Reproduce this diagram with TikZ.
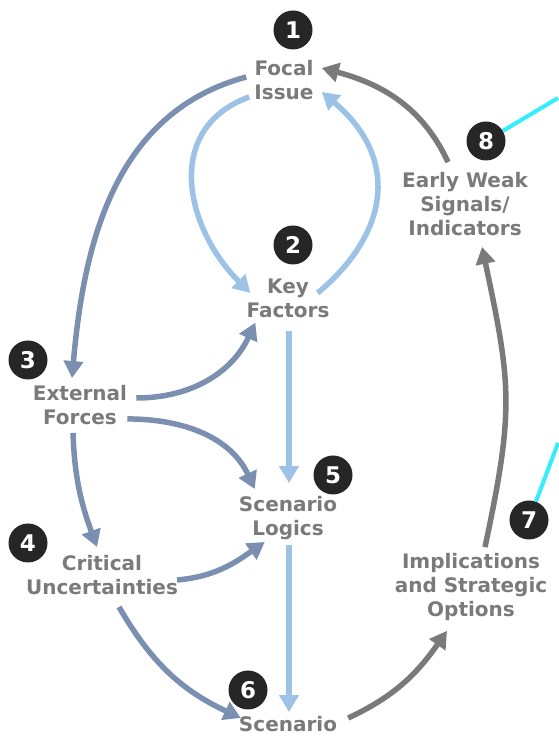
\documentclass[tikz,border=0pt]{standalone}
\usepackage{fontspec}
\setmainfont{DejaVu Sans}
\usetikzlibrary{arrows.meta, positioning}

\definecolor{labelgray}{HTML}{7A7A7A}
\definecolor{steelline}{HTML}{7B8FB0}
\definecolor{skyline}{HTML}{9CC2E5}
\definecolor{greyline}{HTML}{7A7A7A}
\definecolor{dotblack}{HTML}{262626}
\definecolor{leadcyan}{HTML}{33EEFF}

\begin{document}
\begin{tikzpicture}[
    x=1pt, y=1pt,
    itemtext/.style={font=\bfseries\fontsize{20}{24}\selectfont, text=labelgray, align=center, inner sep=0pt},
    numdot/.style={circle, fill=dotblack, minimum size=39pt, inner sep=0pt, text=white, font=\bfseries\fontsize{23}{23}\selectfont},
    flowarrow/.style={-{Triangle[length=17pt,width=19pt]}, line width=5.5pt},
    steelflow/.style={flowarrow, draw=steelline},
    skyflow/.style={flowarrow, draw=skyline},
    greyflow/.style={flowarrow, draw=greyline},
    leadline/.style={draw=leadcyan, line width=4pt}
]
\useasboundingbox (0,0) rectangle (558,744);

% Stufen mit Nummern
\node[numdot] (n1) at (293,714) {1};
\node[itemtext] (focal) at (284,664) {Focal\\Issue};
\node[numdot] (n2) at (293,499) {2};
\node[itemtext] (keyf) at (288,446) {Key\\Factors};
\node[numdot] (n3) at (28,384) {3};
\node[itemtext] (extf) at (80,339) {External\\Forces};
\node[numdot] (n4) at (28,201) {4};
\node[itemtext] (crit) at (102,169) {Critical\\Uncertainties};
\node[numdot] (n5) at (333,269) {5};
\node[itemtext] (logic) at (288,226) {Scenario\\Logics};
\node[numdot] (n6) at (248,54) {6};
\node[itemtext] (scen) at (288,20) {Scenario};
\node[numdot] (n7) at (529,224) {7};
\node[itemtext] (impl) at (471,157) {Implications\\and Strategic\\Options};
\node[numdot] (n8) at (486,603) {8};
\node[itemtext] (early) at (465,540) {Early Weak\\Signals/\\Indicators};

% Hinweislinien zum Rand
\coordinate (edge8) at (558,646);
\coordinate (edge7) at (558,301);
\draw[leadline] (n8) -- (edge8);
\draw[leadline] (n7) -- (edge7);

% Pfeile links (Umfeld)
\draw[steelflow] ([shift={(-8,3)}]focal.west) to[out=195, in=85] ([shift={(-8,7)}]extf.north);
\draw[steelflow] ([shift={(9,7)}]extf.east) to[out=0, in=245] ([shift={(9,-5)}]keyf.south west);
\draw[steelflow] ([shift={(0,6)}]extf.south east) to[out=0, in=115] ([shift={(16,7)}]logic.north west);
\draw[steelflow] ([shift={(-7,-8)}]extf.south) to[out=-88, in=110] ([shift={(-5,8)}]crit.north);
\draw[steelflow] ([shift={(-1,-5)}]crit.east) to[out=5, in=215] ([shift={(26,-2)}]logic.south west);
\draw[steelflow] ([shift={(17,-12)}]crit.south) to[out=-60, in=155] ([shift={(2,6)}]scen.west);

% Pfeile Mitte
\draw[skyflow] ([shift={(-5,3)}]focal.south west) to[out=200, in=135, looseness=1.2] ([shift={(4,5)}]keyf.west);
\draw[skyflow] ([shift={(-12,5)}]keyf.east) to[out=40, in=-40, looseness=1.25] ([shift={(8,-12)}]focal.east);
\draw[skyflow] ([shift={(1,-13)}]keyf.south) -- ([shift={(1,13)}]logic.north);
\draw[skyflow] ([shift={(1,-5)}]logic.south) -- ([shift={(1,4)}]scen.north);

% Pfeile rechts
\draw[greyflow] ([shift={(11,6)}]scen.east) to[out=25, in=235] ([shift={(-24,-10)}]impl.south);
\draw[greyflow] ([shift={(14,6)}]impl.north) to[out=78, in=-78, looseness=1.2] ([shift={(17,-11)}]early.south);
\draw[greyflow] ([shift={(-17,10)}]early.north) to[out=115, in=-15] ([shift={(8,12)}]focal.east);

\end{tikzpicture}
\end{document}
